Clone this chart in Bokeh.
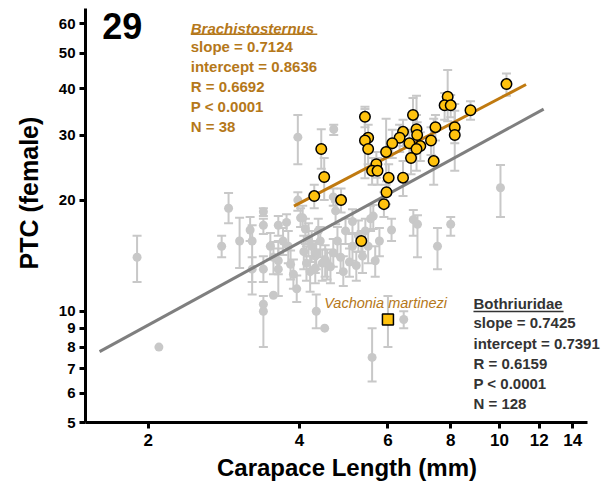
import math
from bokeh.plotting import figure
from bokeh.models import (Range1d, FixedTicker, PrintfTickFormatter, ColumnDataSource,
                          Whisker, TeeHead, Label, Title)
from bokeh.embed import file_html
from bokeh.resources import INLINE

# ---------------- data ----------------
# other Bothriuridae species (grey): carapace length, PTC mean, lower, upper (None = no bar)
gray_x = [1.90, 2.10, 2.80, 2.89, 3.04, 3.19, 3.22, 3.39, 3.39, 3.39, 3.39, 3.39, 3.55, 3.63,
          3.63, 3.63, 3.77, 3.84, 3.97, 3.97, 4.02, 3.89, 3.95, 3.71, 3.80, 3.50, 3.55, 3.22,
          4.06, 4.11, 4.17, 4.08, 4.13, 4.20, 4.23, 4.30, 4.32, 4.30, 4.36, 4.40, 4.44, 4.50,
          4.54, 4.61, 4.67, 4.72, 4.76, 4.83, 4.89, 4.94, 5.03, 5.10, 5.10, 5.19, 5.24, 5.34,
          5.41, 5.48, 5.54, 5.61, 5.66, 5.77, 6.10, 4.32, 4.49, 5.58, 6.45, 6.74, 6.87, 7.53,
          8.00, 10.05, 4.68, 4.67]
gray_y = [14.0, 8.0, 15.0, 19.0, 15.5, 16.6, 15.5, 18.6, 17.1, 13.0, 10.45, 10.0, 11.05, 17.1,
          13.7, 13.0, 17.4, 13.4, 29.6, 20.0, 17.9, 12.6, 11.5, 15.5, 15.0, 15.0, 14.0, 13.0,
          17.9, 16.7, 15.7, 14.5, 13.5, 12.8, 15.0, 14.1, 14.4, 13.1, 16.5, 15.5, 13.5, 13.8,
          13.5, 13.2, 14.4, 18.7, 15.5, 14.0, 12.8, 16.5, 13.6, 15.0, 17.5, 13.3, 16.0, 14.1,
          16.5, 15.0, 17.8, 18.1, 13.7, 15.5, 16.6, 10.0, 9.0, 7.5, 9.5, 17.7, 17.2, 15.0,
          17.2, 21.6, 31.1, 20.4]
gray_lo = [12.0, None, 14.0, 17.3, 13.1, 15.5, 11.1, 18.1, 16.2, 12.0, None, 8.0, None, 16.0,
           12.6, 11.0, 16.5, 12.2, 25.0, 18.7, 16.9, 11.5, 10.6, 14.2, 13.5, 13.8, 12.6, 12.0,
           16.9, 15.2, 14.1, 13.0, 12.1, 11.3, 13.6, 12.7, 13.0, 11.9, 15.2, 14.0, 12.1, 12.4,
           12.2, 11.9, 13.2, 17.2, 14.1, 12.7, 11.7, 15.2, 12.4, 13.7, 16.2, 12.1, 14.5, 12.7,
           15.1, 13.5, 16.5, 16.7, 12.4, 14.1, 15.5, 9.0, None, 6.46, 9.0, 16.0, 14.0, 13.0,
           16.0, 18.0, 30.0, 19.3]
gray_hi = [16.0, None, 16.0, 20.9, 17.9, 18.0, 17.1, 19.0, 17.8, 14.1, None, 11.0, None, 18.1,
           14.8, 15.5, 18.3, 14.6, 34.0, 21.0, 19.0, 13.8, 12.5, 16.8, 16.5, 16.3, 15.4, 14.0,
           19.3, 17.8, 17.3, 16.0, 15.0, 14.1, 16.5, 15.5, 15.5, 14.4, 17.8, 16.9, 14.7, 15.1,
           14.7, 14.4, 15.7, 19.8, 16.9, 15.2, 14.1, 17.8, 14.8, 16.3, 18.9, 14.5, 17.6, 15.5,
           17.8, 16.5, 19.3, 19.4, 15.0, 16.8, 17.8, 11.1, None, 9.0, 10.0, 18.8, 18.2, 16.8,
           18.0, 24.9, 32.0, 21.5]

# Brachistosternus (yellow)
brach_x = [10.33, 7.89, 7.78, 8.00, 8.76, 5.40, 6.73, 6.84, 7.46, 8.15, 8.15, 6.86, 6.43,
           6.33, 5.48, 5.40, 7.31, 6.12, 6.62, 6.96, 6.84, 5.48, 4.42, 5.95, 6.67, 7.40, 5.69,
           5.58, 5.72, 4.48, 6.02, 6.43, 4.28, 4.84, 5.96, 5.89, 5.31]
brach_y = [41.2, 38.1, 36.1, 36.1, 35.0, 33.6, 34.0, 31.1, 31.5, 31.5, 30.0, 30.0, 30.6,
           29.5, 29.5, 29.0, 29.0, 28.5, 28.5, 28.0, 27.5, 27.5, 27.5, 27.0, 26.0, 25.5, 25.0,
           24.0, 24.0, 23.1, 23.0, 23.0, 20.5, 20.0, 21.0, 19.5, 15.5]
brach_lo = [38.3, 32.7, 33.0, 33.5, 33.0, 31.5, 30.5, 28.0, 29.0, 28.5, 24.0, 27.5, 28.0,
            27.0, 27.0, 22.9, 26.5, 26.0, 26.0, 25.5, 24.0, 25.0, 24.3, 22.0, 23.5, 22.0, 23.0,
            22.0, 22.0, 20.0, 21.0, 20.5, 19.0, 18.5, 19.5, 18.0, 14.5]
brach_hi = [44.0, 45.0, 39.0, 38.5, 37.0, 35.8, 37.8, 34.0, 34.0, 34.9, 36.4, 32.5, 33.0,
            32.0, 32.0, 35.3, 31.5, 31.0, 31.0, 30.5, 38.3, 30.0, 31.1, 33.2, 28.5, 33.2, 27.0,
            26.0, 26.0, 26.0, 25.0, 25.5, 22.0, 21.5, 22.5, 21.0, 16.5]

# Vachonia martinezi (square)
vach_x = [6.0]
vach_y = [9.5]
vach_lo = [8.0]
vach_hi = [11.0]

# regressions (log10 y = slope * log10 x + intercept)
fit_names = ["Brachistosternus", "Bothriuridae"]
fit_slope = [0.7124, 0.7425]
fit_intercept = [0.8636, 0.7391]
fit_R = [0.6692, 0.6159]
fit_N = [38, 128]
fit_xmin = [3.9, 1.6]
fit_xmax = [11.3, 12.25]

x_ticks = [2, 4, 6, 8, 10, 12, 14]
y_ticks = [5, 6, 7, 8, 9, 10, 20, 30, 40, 50, 60]

# ---------------- styling ----------------
FONT = "Liberation Sans"
ORANGE_TXT = "#B5781A"
ORANGE_LINE = "#C07A10"
YELLOW = "#FFC20E"
LGRAY = "#C8C8C8"
DGRAY = "#7F7F7F"
TXT_DARK = "#333333"

p = figure(width=608, height=483, x_axis_type="log", y_axis_type="log",
           x_range=Range1d(1.5, 16.49), y_range=Range1d(5, 66),
           output_backend="svg", toolbar_location=None,
           min_border_left=85, min_border_right=0, min_border_top=8, min_border_bottom=61)
p.outline_line_color = None
p.grid.visible = False
p.background_fill_color = "white"

for ax, ticks, fs in ((p.xaxis, x_ticks, "17px"), (p.yaxis, y_ticks, "15px")):
    ax.ticker = FixedTicker(ticks=ticks)
    ax.formatter = PrintfTickFormatter(format="%d")
    ax.axis_line_width = 3
    ax.axis_line_color = "black"
    ax.major_tick_line_width = 3
    ax.major_tick_out = 6
    ax.major_tick_in = 0
    ax.minor_tick_line_color = None
    ax.major_label_text_font = FONT
    ax.major_label_text_font_style = "bold"
    ax.major_label_text_font_size = fs
    ax.major_label_text_color = "black"
    ax.axis_label_text_font = FONT
    ax.axis_label_text_font_style = "bold"
    ax.axis_label_text_font_size = "24px"
    ax.axis_label_text_color = "black"
p.xaxis.bounds = (1.5, 15)
p.xaxis.axis_label = "Carapace Length (mm)"
p.xaxis.major_label_standoff = 5
p.yaxis.major_label_standoff = 4
p.xaxis.axis_label_standoff = 5

# y title as a side title, started above the frame bottom as in the reference
p.add_layout(Title(text="PTC (female)", align="left", offset=153, standoff=22,
                   vertical_align="top",
                   text_font=FONT, text_font_style="bold", text_font_size="25px",
                   text_color="black"), "left")

# error bars (grey)
def bars(xs, lo, hi):
    idx = [i for i in range(len(xs)) if lo[i] is not None and hi[i] is not None]
    src = ColumnDataSource(dict(x=[xs[i] for i in idx], lo=[lo[i] for i in idx],
                                hi=[hi[i] for i in idx]))
    w = Whisker(source=src, base="x", lower="lo", upper="hi", dimension="height",
                line_color=LGRAY, line_width=2, level="underlay",
                upper_head=TeeHead(size=9, line_color=LGRAY, line_width=2),
                lower_head=TeeHead(size=9, line_color=LGRAY, line_width=2))
    p.add_layout(w)

bars(gray_x, gray_lo, gray_hi)
bars(brach_x, brach_lo, brach_hi)
bars(vach_x, vach_lo, vach_hi)

p.scatter(gray_x, gray_y, size=9, fill_color=LGRAY, line_color=None)

# regression lines
for i, col in ((1, DGRAY), (0, ORANGE_LINE)):
    xs = [fit_xmin[i], fit_xmax[i]]
    ys = [10 ** (fit_slope[i] * math.log10(v) + fit_intercept[i]) for v in xs]
    p.line(xs, ys, line_color=col, line_width=3)

p.scatter(brach_x, brach_y, size=10.5, fill_color=YELLOW, line_color="black", line_width=1.5)
p.scatter(vach_x, vach_y, marker="square", size=11, fill_color=YELLOW,
          line_color="black", line_width=1.5)

# ---------------- annotations ----------------
def lab(x, y, text, color, size="15px", style="bold"):
    p.add_layout(Label(x=x, y=y, text=text, text_font=FONT, text_font_size=size,
                       text_font_style=style, text_color=color,
                       text_baseline="middle", text_align="left"))

lab(1.62, 59.3, "29", "black", size="36px")

b_x = 2.43
b_ys = [58.4, 52.1, 45.9, 40.6, 35.8, 31.7]
lab(b_x, b_ys[0], fit_names[0], ORANGE_TXT, style="bold italic")
lab(b_x, b_ys[1], f"slope = {fit_slope[0]:.4f}", ORANGE_TXT)
lab(b_x, b_ys[2], f"intercept = {fit_intercept[0]:.4f}", ORANGE_TXT)
lab(b_x, b_ys[3], f"R = {fit_R[0]:.4f}", ORANGE_TXT)
lab(b_x, b_ys[4], "P < 0.0001", ORANGE_TXT)
lab(b_x, b_ys[5], f"N = {fit_N[0]}", ORANGE_TXT)
p.line([2.43, 4.34], [56.2, 56.2], line_color=ORANGE_TXT, line_width=1.5)

o_x = 8.88
o_ys = [10.47, 9.30, 8.20, 7.24, 6.39, 5.64]
lab(o_x, o_ys[0], fit_names[1], TXT_DARK)
lab(o_x, o_ys[1], f"slope = {fit_slope[1]:.4f}", TXT_DARK)
lab(o_x, o_ys[2], f"intercept = {fit_intercept[1]:.4f}", TXT_DARK)
lab(o_x, o_ys[3], f"R = {fit_R[1]:.4f}", TXT_DARK)
lab(o_x, o_ys[4], "P < 0.0001", TXT_DARK)
lab(o_x, o_ys[5], f"N = {fit_N[1]}", TXT_DARK)
p.line([8.88, 13.42], [9.98, 9.98], line_color=TXT_DARK, line_width=1.5)

lab(4.48, 10.53, "Vachonia martinezi", ORANGE_TXT, size="14.5px", style="italic")

open("out.html", "w").write(file_html(p, INLINE))
